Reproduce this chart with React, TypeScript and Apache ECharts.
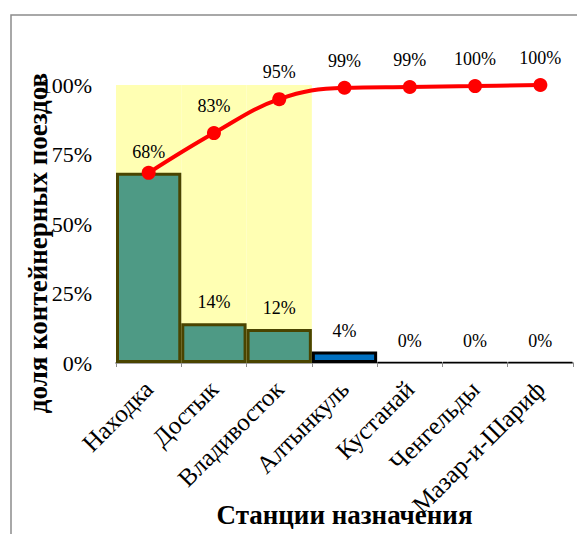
import React, { useEffect, useRef } from "react";
import * as echarts from "echarts";

// Destination stations and their share of container trains, %
const stations = ["Находка", "Достык", "Владивосток", "Алтынкуль", "Кустанай", "Ченгельды", "Мазар-и-Шариф"];
const shares = [68.4, 14.3, 12.2, 4.1, 0.3, 0.3, 0.4];
// Cumulative share (Pareto line), %
const cumulative = [68.4, 82.7, 94.9, 99.0, 99.3, 99.6, 100];
// Leading group highlighted behind the bars (top 3 stations)
const highlight = [100, 100, 100, "-", "-", "-", "-"];
const yTicks = [0, 25, 50, 75, 100];

const FONT = "Liberation Serif";

export default function App() {
  const ref = useRef<HTMLDivElement>(null);

  useEffect(() => {
    if (!ref.current) return;
    const chart = echarts.init(ref.current, undefined, { renderer: "svg" });

    const barData = shares.map((v, i) => ({
      value: v,
      itemStyle:
        i < 3
          ? { color: "#4e9a85", borderColor: "#4a4400", borderWidth: 3 }
          : { color: "#0070c0", borderColor: "#000000", borderWidth: i === 3 ? 3 : 1.5 },
    }));

    const lineData = cumulative.map((v, i) => ({
      value: v,
      label: { show: i > 0 },
    }));

    chart.setOption({
      animation: false,
      backgroundColor: "#ffffff",
      textStyle: { fontFamily: FONT },
      grid: {
        left: 116,
        right: 4,
        top: 85,
        bottom: 171,
        containLabel: false,
        outerBoundsMode: "none",
      },
      xAxis: {
        type: "category",
        data: stations,
        boundaryGap: true,
        name: "Станции назначения",
        nameLocation: "middle",
        nameGap: 138,
        nameMoveOverlap: false,
        nameTextStyle: {
          fontFamily: FONT,
          fontSize: 27,
          fontWeight: "bold",
          color: "#000",
          verticalAlign: "top",
        },
        axisLine: { show: true, lineStyle: { color: "#a6a6a6", width: 2 } },
        axisTick: { show: true, length: 4, lineStyle: { color: "#8c8c8c" } },
        axisLabel: {
          rotate: 45,
          margin: 22,
          interval: 0,
          fontFamily: FONT,
          fontSize: 25,
          color: "#000",
        },
      },
      yAxis: {
        type: "value",
        min: yTicks[0],
        max: yTicks[yTicks.length - 1],
        interval: 25,
        axisLine: { show: false },
        axisTick: { show: false },
        splitLine: { show: false },
        axisLabel: {
          margin: 24,
          fontFamily: FONT,
          fontSize: 22,
          color: "#000",
          formatter: (v: number) => `${v}%`,
        },
      },
      graphic: [
        {
          type: "rect",
          shape: { x: 11, y: 15, width: 700, height: 700 },
          style: { fill: "none", stroke: "#8c8c8c", lineWidth: 1.5 },
          silent: true,
          z: -10,
        },
        {
          type: "text",
          x: 38,
          y: 243,
          rotation: Math.PI / 2,
          style: {
            text: "доля контейнерных поездов",
            font: `bold 27px '${FONT}', serif`,
            fill: "#000",
            textAlign: "center",
            textVerticalAlign: "middle",
          },
        },
      ],
      series: [
        {
          type: "bar",
          data: highlight,
          barCategoryGap: "0%",
          barGap: "-100%",
          itemStyle: { color: "#ffffb3" },
          silent: true,
          z: 1,
        },
        {
          type: "bar",
          data: barData,
          barCategoryGap: "0%",
          barGap: "-100%",
          z: 2,
          label: {
            show: true,
            position: "top",
            distance: 12,
            fontFamily: FONT,
            fontSize: 18,
            color: "#000",
            formatter: (p: any) => `${Math.round(p.value)}%`,
          },
        },
        {
          type: "line",
          data: lineData,
          smooth: 0.4,
          symbol: "circle",
          symbolSize: 14,
          z: 3,
          lineStyle: { color: "#ff0000", width: 4 },
          itemStyle: { color: "#ff0000" },
          label: {
            position: "top",
            distance: 11,
            fontFamily: FONT,
            fontSize: 18,
            color: "#000",
            formatter: (p: any) => `${Math.round(p.value)}%`,
          },
        },
      ],
    });

    return () => chart.dispose();
  }, []);

  return (
    <div
      ref={ref}
      style={{ position: "fixed", left: 0, top: 0, width: 577, height: 534, background: "#fff" }}
    />
  );
}
